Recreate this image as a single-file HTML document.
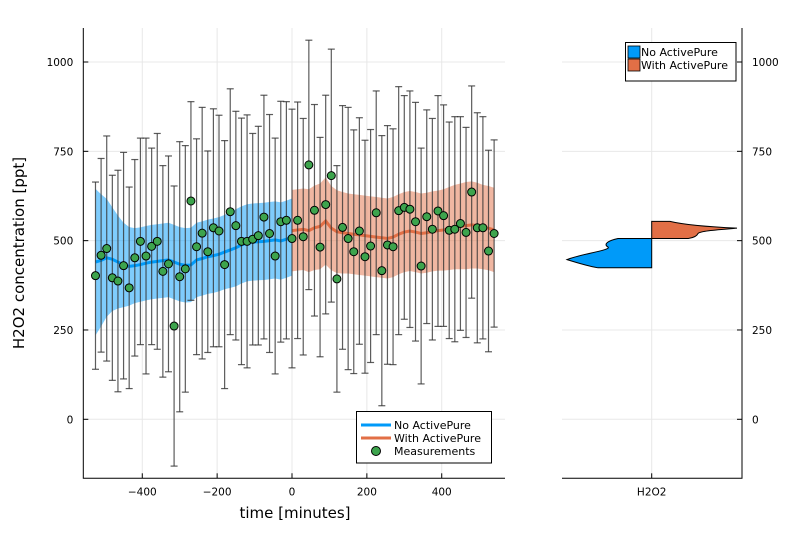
<!DOCTYPE html>
<html><head><meta charset="utf-8">
<style>
html,body{margin:0;padding:0;background:#fff;}
svg{display:block;font-family:"DejaVu Sans","Liberation Sans",sans-serif;}
</style></head>
<body>
<svg id="chart" width="810" height="540" viewBox="0 0 810 540" xmlns="http://www.w3.org/2000/svg">
<g id="leftPanel"></g>
<g id="rightPanel"></g>
</svg>
<script>
// measurement data
const times = [-525,-510,-495,-480,-465,-450,-435,-420,-405,-390,-375,-360,-345,-330,-315,-300,-285,-270,-255,-240,-225,-210,-195,-180,-165,-150,-135,-120,-105,-90,-75,-60,-45,-30,-15,0,
15,30,45,60,75,90,105,120,135,150,165,180,195,210,225,240,255,270,285,300,315,330,345,360,375,390,405,420,435,450,465,480,495,510,525,540];
const values = [402,459,478,396,387,430,368,452,498,457,484,498,414,435,261,399,421,611,483,521,469,536,527,433,581,542,498,498,504,514,566,520,457,553,557,506,
557,511,712,585,482,601,682,393,537,506,469,527,455,485,578,416,488,483,584,593,588,553,429,567,532,583,570,529,532,548,523,636,536,536,471,520];
const errors = [262,271,315,287,310,317,282,275,289,330,275,302,296,302,392,378,345,278,302,352,282,333,324,347,344,320,345,354,296,306,341,333,330,337,332,362,
331,331,349,296,307,306,354,317,341,367,341,317,326,326,341,378,334,330,347,313,331,334,330,299,310,323,310,303,315,299,294,297,322,311,282,262];
// model fits
const blueTimes = times.slice(0,36);
const blueMean = [440,445,452,448,440,432,428,430,433,437,440,442,444,446,440,434,431,432,446,450,455,458,462,468,474,480,488,494,496,497,498,500,502,499,504,510];
const blueHalf = [205,185,165,145,130,118,110,105,104,104,104,104,104,104,104,104,104,104,104,104,104,104,104,104,106,108,108,108,108,108,108,108,108,108,108,108];
const orangeTimes = [0].concat(times.slice(36));
const orangeMean = [528,530,532,528,536,540,555,535,525,522,520,518,516,514,512,510,508,506,510,518,524,527,524,520,522,526,528,530,534,538,540,542,544,542,538,535,530];
const orangeHalf = [114,114,114,116,118,120,122,118,116,114,112,112,112,112,112,112,112,112,112,112,112,112,112,112,112,112,112,114,116,118,120,122,122,120,118,118,118];
const xTicks = [-400,-200,0,200,400];
const yTicks = [0,250,500,750,1000];

const NS="http://www.w3.org/2000/svg";
function el(tag,attrs,parent){const e=document.createElementNS(NS,tag);for(const k in attrs)e.setAttribute(k,attrs[k]);parent.appendChild(e);return e;}
const X=t=>292+t*0.3743;
const Y=v=>419.3-v*0.3573;
const L=document.getElementById('leftPanel'), R=document.getElementById('rightPanel');
const pLeft=83.3,pRight=505,pTop=28,pBottom=478.3;

// grid
xTicks.forEach(t=>{const g=el('line',{x1:X(t),x2:X(t),y1:pTop,y2:pBottom,stroke:'#e8e8e8','stroke-width':1},L);
});
yTicks.forEach(v=>{const g=el('line',{x1:pLeft,x2:pRight,y1:Y(v),y2:Y(v),stroke:'#e8e8e8','stroke-width':1},L);

const g2=el('line',{x1:562,x2:742,y1:Y(v),y2:Y(v),stroke:'#e8e8e8','stroke-width':1},R);
});

// bands
function band(ts,m,h,color,name){
  let d='M'+ts.map((t,i)=>X(t)+','+Y(m[i]+h[i])).join('L');
  for(let i=ts.length-1;i>=0;i--)d+='L'+X(ts[i])+','+Y(m[i]-h[i]);
  const p=el('path',{d:d+'Z',fill:color,'fill-opacity':0.5,stroke:'none'},L);
  
}
function line(ts,m,color,name){
  const p=el('polyline',{points:ts.map((t,i)=>X(t)+','+Y(m[i])).join(' '),fill:'none',stroke:color,'stroke-width':3},L);
  
}
band(blueTimes,blueMean,blueHalf,'#009af9','no-activepure-band');
band(orangeTimes,orangeMean,orangeHalf,'#e26f46','with-activepure-band');
line(blueTimes,blueMean,'#009af9','no-activepure-line');
line(orangeTimes,orangeMean,'#e26f46','with-activepure-line');

// error bars + points
times.forEach((t,i)=>{
  const x=X(t),y1=Y(values[i]+errors[i]),y2=Y(values[i]-errors[i]);
  const g=el('g',{stroke:'#333','stroke-opacity':0.8,'stroke-width':1.2},L);
  
  el('line',{x1:x,x2:x,y1:y1,y2:y2},g);
  el('line',{x1:x-3.5,x2:x+3.5,y1:y1,y2:y1},g);
  el('line',{x1:x-3.5,x2:x+3.5,y1:y2,y2:y2},g);
});
times.forEach((t,i)=>{
  const c=el('circle',{cx:X(t),cy:Y(values[i]),r:4,fill:'#3da44d',stroke:'#000','stroke-width':1},L);
  
});

// axes
const ax=el('path',{d:`M${pLeft},${pTop}V${pBottom}H${pRight}`,fill:'none',stroke:'#000','stroke-width':1},L);

xTicks.forEach(t=>{
  el('line',{x1:X(t),x2:X(t),y1:pBottom,y2:pBottom-5,stroke:'#000'},L);
  const tx=el('text',{x:X(t),y:pBottom+17,'font-size':10.5,'text-anchor':'middle',fill:'#000'},L);
  tx.textContent=t<0?'\u2212'+(-t):String(t);
  
});
yTicks.forEach(v=>{
  el('line',{x1:pLeft,x2:pLeft+5,y1:Y(v),y2:Y(v),stroke:'#000'},L);
  const tx=el('text',{x:pLeft-10,y:Y(v)+4,'font-size':10.5,'text-anchor':'end',fill:'#000'},L);
  tx.textContent=String(v);
  
  el('line',{x1:742,x2:737,y1:Y(v),y2:Y(v),stroke:'#000'},R);
  const t2=el('text',{x:752,y:Y(v)+4,'font-size':10.5,'text-anchor':'start',fill:'#000'},R);
  t2.textContent=String(v);
  
});
const xl=el('text',{x:295,y:518,'font-size':15,'text-anchor':'middle',fill:'#000'},L);
xl.textContent='time [minutes]';
const yl=el('text',{x:24,y:253,'font-size':15,'text-anchor':'middle',fill:'#000',transform:'rotate(-90 24 253)'},L);
yl.textContent='H2O2 concentration [ppt]';

// legend left
const lg=el('g',{},L);
el('rect',{x:356.5,y:411.5,width:135,height:51.5,fill:'#fff',stroke:'#000','stroke-width':1},lg);
[['No ActivePure','#009af9',425],['With ActivePure','#e26f46',438]].forEach(([n,c,y])=>{
  const e=el('g',{},lg);
  
  
  el('line',{x1:361,x2:391,y1:y,y2:y,stroke:c,'stroke-width':3},e);
  const t=el('text',{x:394,y:y+4,'font-size':11,fill:'#000'},e);t.textContent=n;
});
const le=el('g',{},lg);


el('circle',{cx:376,cy:451,r:4.5,fill:'#3da44d',stroke:'#000'},le);
const lt=el('text',{x:394,y:455,'font-size':11,fill:'#000'},le);lt.textContent='Measurements';

// right panel
const cx=651.7;
el('line',{x1:cx,x2:cx,y1:pTop,y2:pBottom,stroke:'#e8e8e8'},R);
const rax=el('path',{d:`M562,${pBottom}H742V${pTop}`,fill:'none',stroke:'#000'},R);

el('line',{x1:cx,x2:cx,y1:pBottom,y2:pBottom-5,stroke:'#000'},R);
const ht=el('text',{x:cx,y:pBottom+17,'font-size':10.5,'text-anchor':'middle',fill:'#000'},R);
ht.textContent='H2O2';
const vb=el('path',{d:'M'+cx+','+Y(506)+' L618,'+Y(506)+' C608,'+Y(500)+' 603,'+Y(490)+' 608,'+Y(482)+' C612,'+Y(474)+' 580,'+Y(462)+' 567,'+Y(447)+' C575,'+Y(440)+' 590,'+Y(428)+' 598,'+Y(424)+' L'+cx+','+Y(424)+'Z',fill:'#009af9',stroke:'#000','stroke-width':1},R);

const vo=el('path',{d:'M'+cx+','+Y(506)+' L'+cx+','+Y(554)+' L670,'+Y(554)+' C676,'+Y(550)+' 690,'+Y(541)+' 737,'+Y(535)+' C715,'+Y(530)+' 700,'+Y(527)+' 698,'+Y(520)+' C696,'+Y(508)+' 690,'+Y(507)+' 688,'+Y(506)+'Z',fill:'#e26f46',stroke:'#000','stroke-width':1},R);

// legend right
const rl=el('g',{},R);
el('rect',{x:625.5,y:42.5,width:110.5,height:38.5,fill:'#fff',stroke:'#000'},rl);
[['No ActivePure','#009af9',46],['With ActivePure','#e26f46',59]].forEach(([n,c,y])=>{
  const e=el('g',{},rl);
  
  
  el('rect',{x:628,y:y,width:12,height:12,fill:c,stroke:'#000','stroke-width':0.8},e);
  const t=el('text',{x:641,y:y+10,'font-size':11,fill:'#000'},e);t.textContent=n;
});
</script>
</body></html>
